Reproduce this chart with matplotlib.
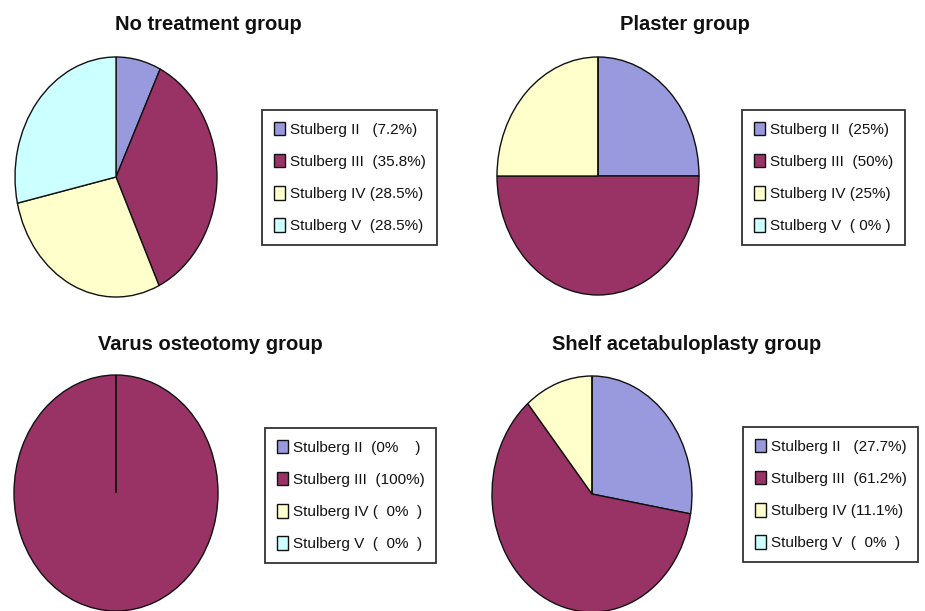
import matplotlib
matplotlib.use('Agg')
import matplotlib.pyplot as plt

plt.rcParams['font.family'] = ['Liberation Sans', 'DejaVu Sans']

# data
titles = ['No treatment group', 'Plaster group',
          'Varus osteotomy group', 'Shelf acetabuloplasty group']
no_treatment = [7.2, 35.8, 28.5, 28.5]
plaster = [25, 50, 25, 0]
varus = [0, 100, 0, 0]
shelf = [27.7, 61.2, 11.1, 0]

labels_no_treatment = ['Stulberg II   (7.2%)', 'Stulberg III  (35.8%)',
                       'Stulberg IV (28.5%)', 'Stulberg V  (28.5%)']
labels_plaster = ['Stulberg II  (25%)', 'Stulberg III  (50%)',
                  'Stulberg IV (25%)', 'Stulberg V  ( 0% )']
labels_varus = ['Stulberg II  (0%    )', 'Stulberg III  (100%)',
                'Stulberg IV (  0%  )', 'Stulberg V  (  0%  )']
labels_shelf = ['Stulberg II   (27.7%)', 'Stulberg III  (61.2%)',
                'Stulberg IV (11.1%)', 'Stulberg V  (  0%  )']

colors = ['#9999DD', '#993366', '#FFFFCC', '#CCFFFF']

W, H = 925, 611
fig = plt.figure(figsize=(W / 100, H / 100), dpi=100)
fig.patch.set_facecolor('white')

# pixel layout: pie centre/radii, title position, legend top-left corner
panels = [
    (no_treatment, labels_no_treatment, (116, 177, 101, 120), (208, 25), (262, 110)),
    (plaster, labels_plaster, (598, 176, 101, 119), (685, 25), (742, 110)),
    (varus, labels_varus, (116, 493, 102, 118), (210, 345), (265, 428)),
    (shelf, labels_shelf, (592, 494, 100, 118), (687, 345), (743, 427)),
]

pad = 1.03
for (vals, labs, (cx, cy, rx, ry), (tx, ty), (lx, ly)), title in zip(panels, titles):
    aw, ah = 2 * pad * rx, 2 * pad * ry
    ax = fig.add_axes([(cx - aw / 2) / W, 1 - (cy + ah / 2) / H, aw / W, ah / H])
    wedges, _ = ax.pie(vals, colors=colors, startangle=90, counterclock=False,
                       wedgeprops=dict(edgecolor='#111111', linewidth=1.0))
    ax.set_aspect('auto')
    ax.set_xlim(-pad, pad)
    ax.set_ylim(-pad, pad)
    ax.axis('off')

    fig.text(tx / W, 1 - ty / H, title, ha='center', va='center',
             fontsize=14.5, fontweight='bold', color='#111111')

    leg = fig.legend(wedges, labs, loc='upper left',
                     bbox_to_anchor=(lx / W, 1 - ly / H),
                     bbox_transform=fig.transFigure, borderaxespad=0,
                     fontsize=11, frameon=True, fancybox=False, shadow=False,
                     handlelength=0.75, handleheight=1.0, handletextpad=0.3,
                     labelspacing=1.12, borderpad=0.76)
    leg.get_frame().set_edgecolor('black')
    leg.get_frame().set_linewidth(1.3)
    for t in leg.get_texts():
        t.set_color('#111111')

plt.savefig('out.png', dpi=100)
